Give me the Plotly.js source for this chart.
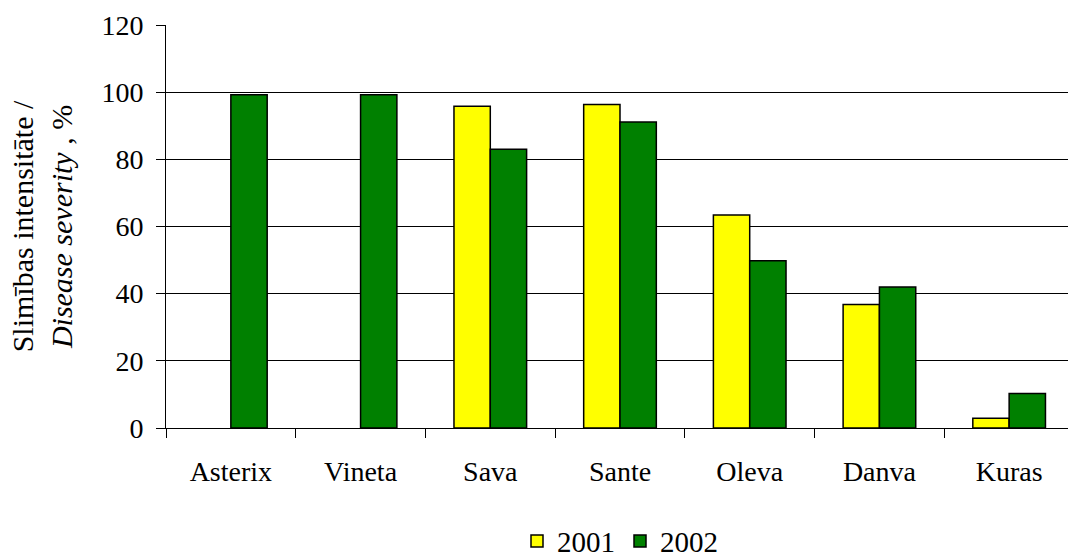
<!DOCTYPE html>
<html>
<head>
<meta charset="utf-8">
<script src="https://cdn.plot.ly/plotly-3.0.1.min.js"></script>
<style>
  html, body { margin: 0; padding: 0; background: #fff; overflow: hidden; }
  #chart { width: 1080px; height: 559px; }
</style>
</head>
<body>
<div id="chart"></div>
<script>
// Potato varieties and disease severity (%) by year
const varieties = ['Asterix', 'Vineta', 'Sava', 'Sante', 'Oleva', 'Danva', 'Kuras'];
const severity2001 = [null, null, 95.8, 96.3, 63.4, 36.8, 2.9];
const severity2002 = [99.2, 99.2, 83.0, 91.1, 49.8, 42.0, 10.3];
const seriesNames = ['2001', '2002'];
const yTicks = [0, 20, 40, 60, 80, 100, 120];

const serif = '"Liberation Serif", "Times New Roman", serif';
const barLine = { color: '#000', width: 1.5 };

const traces = [
  {
    type: 'bar', name: seriesNames[0], x: varieties, y: severity2001,
    marker: { color: '#FFFF00', line: barLine }
  },
  {
    type: 'bar', name: seriesNames[1], x: varieties, y: severity2002,
    marker: { color: '#008000', line: barLine }
  }
];

const layout = {
  width: 1080,
  height: 559,
  margin: { l: 166, r: 6, t: 25, b: 131, autoexpand: false },
  paper_bgcolor: '#fff',
  plot_bgcolor: '#fff',
  font: { family: serif, size: 28, color: '#000' },
  barmode: 'group',
  bargap: 0.44,
  bargroupgap: 0,
  showlegend: true,
  legend: {
    orientation: 'h',
    xref: 'paper', x: 0.5, xanchor: 'center',
    yref: 'container', y: 0.032, yanchor: 'middle',
    font: { family: serif, size: 29, color: '#000' },
    itemwidth: 30,
    traceorder: 'normal'
  },
  xaxis: {
    type: 'category',
    automargin: false,
    showline: true, linecolor: '#000', linewidth: 1,
    ticks: 'outside', tickson: 'boundaries', ticklen: 9, tickcolor: '#000', tickwidth: 1,
    ticklabelstandoff: 18,
    showgrid: false, zeroline: false,
    tickfont: { family: serif, size: 28, color: '#000' }
  },
  yaxis: {
    range: [0, 120],
    automargin: false,
    tickvals: yTicks,
    ticktext: yTicks.map(String),
    showline: true, linecolor: '#000', linewidth: 1,
    ticks: 'outside', ticklen: 9, tickcolor: '#000', tickwidth: 1,
    ticklabelstandoff: 7,
    showgrid: true, gridcolor: '#000', gridwidth: 1,
    zeroline: false,
    tickfont: { family: serif, size: 28, color: '#000' },
    title: {
      text: 'Slimības intensitāte /<br><i>Disease severity</i> , %',
      font: { family: serif, size: 30, color: '#000' },
      standoff: 19
    }
  }
};

Plotly.newPlot('chart', traces, layout, { displayModeBar: false, staticPlot: true });
</script>
</body>
</html>
